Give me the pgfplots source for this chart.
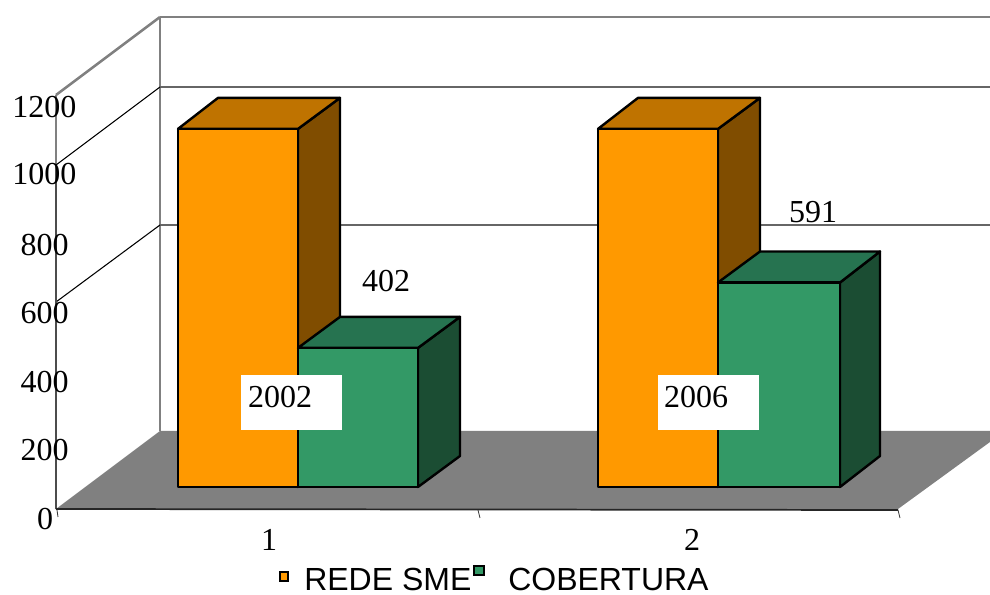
\documentclass[border=0pt]{standalone}
\usepackage{pgfplots}
\pgfplotsset{compat=1.18}
\usepackage{fontspec}
\setmainfont{Liberation Serif}
\newfontfamily\arialf{Liberation Sans}
\definecolor{floorgray}{HTML}{808080}
\definecolor{orF}{HTML}{FF9900}
\definecolor{orT}{HTML}{BF7300}
\definecolor{orS}{HTML}{804D00}
\definecolor{grF}{HTML}{339966}
\definecolor{grT}{HTML}{267350}
\definecolor{grS}{HTML}{1B4D33}
\pgfplotsset{
  base/.style={hide axis, scale only axis, width=742.5pt, height=446.25pt, xmin=0, xmax=990},
  pix/.style={base, ymin=0, ymax=595, y dir=reverse},
  face/.style={draw=black, line width=1.8pt, line join=round, mark=none, fill=#1},
  g2/.style={draw=floorgray, line width=1.9pt, mark=none},
  g1/.style={draw=black, line width=0.8pt, mark=none},
}
\tikzset{
  lab/.style={anchor=base, inner sep=0pt, font=\fontsize{24}{28}\selectfont},
  leg/.style={anchor=base west, inner sep=0pt, font=\arialf\fontsize{24}{28}\selectfont},
}
\begin{document}
\begin{tikzpicture}
\useasboundingbox (0,0) rectangle (742.5pt,446.25pt);
% frame: walls and floor (pixel space)
\begin{axis}[pix]
\addplot[fill=floorgray, draw=none, mark=none] coordinates {(56,509) (160,431) (990,431) (990,442) (898,509)} --cycle;
\addplot[g2] coordinates {(56,95) (160,17)};
\addplot[g2] coordinates {(160,17) (990,17)};
\addplot[g2] coordinates {(160,17) (160,431)};
\addplot[g2] coordinates {(56,95) (56,509)};
\addplot[draw=black!60, line width=1.2pt, mark=none] coordinates {(160,87) (990,87)};
\addplot[draw=black!60, line width=1.2pt, mark=none] coordinates {(160,225) (990,225)};
\addplot[g1] coordinates {(56,165) (160,87)};
\addplot[g1] coordinates {(56,302) (160,225)};
\addplot[draw=black!70, line width=1pt, mark=none] coordinates {(56,165) (56,509)};
\addplot[draw=black!85, line width=1.3pt, mark=none] coordinates {(56,509) (898,510)};
\addplot[draw=black!80, line width=0.6pt, mark=none] coordinates {(57,510) (58,517)};
\addplot[draw=black!80, line width=0.6pt, mark=none] coordinates {(478,510) (480,518)};
\addplot[draw=black!80, line width=0.6pt, mark=none] coordinates {(898,510) (900,518)};
\end{axis}
% bars: y in data units, depth offset 42 px / 89.6 units
\begin{axis}[base, ymin=-312.14, ymax=1407.51]
% group 1, REDE SME = 1035
\addplot[face=orS] coordinates {(298,0) (340,89.6) (340,1124.6) (298,1035)} --cycle;
\addplot[face=orT] coordinates {(178,1035) (218,1124.6) (340,1124.6) (298,1035)} --cycle;
\addplot[face=orF] coordinates {(178,0) (178,1035) (298,1035) (298,0)} --cycle;
% group 1, COBERTURA = 402
\addplot[face=grS] coordinates {(418,0) (460,89.6) (460,491.6) (418,402)} --cycle;
\addplot[face=grT] coordinates {(298,402) (340,491.6) (460,491.6) (418,402)} --cycle;
\addplot[face=grF] coordinates {(298,0) (298,402) (418,402) (418,0)} --cycle;
% group 2, REDE SME = 1035
\addplot[face=orS] coordinates {(718,0) (760,89.6) (760,1124.6) (718,1035)} --cycle;
\addplot[face=orT] coordinates {(598,1035) (638,1124.6) (760,1124.6) (718,1035)} --cycle;
\addplot[face=orF] coordinates {(598,0) (598,1035) (718,1035) (718,0)} --cycle;
% group 2, COBERTURA = 591
\addplot[face=grS] coordinates {(840,0) (880,89.6) (880,680.6) (840,591)} --cycle;
\addplot[face=grT] coordinates {(718,591) (760,680.6) (880,680.6) (840,591)} --cycle;
\addplot[face=grF] coordinates {(718,0) (718,591) (840,591) (840,0)} --cycle;
\end{axis}
% labels and legend (pixel space)
\begin{axis}[pix]
\addplot[fill=white, draw=none, mark=none] coordinates {(241,375) (342,375) (342,430) (241,430)} --cycle;
\addplot[fill=white, draw=none, mark=none] coordinates {(658,375) (759,375) (759,430) (658,430)} --cycle;
\addplot[fill=orF, draw=black, line width=1.2pt, mark=none] coordinates {(280,572) (288,572) (288,581) (280,581)} --cycle;
\addplot[fill=grF, draw=black, line width=1.2pt, mark=none] coordinates {(474,566) (484,566) (484,575) (474,575)} --cycle;
\node[lab] at (axis cs:44.5,118) {1200};
\node[lab] at (axis cs:44.5,185) {1000};
\node[lab] at (axis cs:44.5,256) {800};
\node[lab] at (axis cs:44.5,324) {600};
\node[lab] at (axis cs:44.5,393) {400};
\node[lab] at (axis cs:44.5,461) {200};
\node[lab] at (axis cs:45,530) {0};
\node[lab] at (axis cs:269,551) {1};
\node[lab] at (axis cs:692,551) {2};
\node[lab] at (axis cs:386,291.5) {402};
\node[lab] at (axis cs:813,223) {591};
\node[lab] at (axis cs:280,408) {2002};
\node[lab] at (axis cs:696,408) {2006};
\node[leg] at (axis cs:304,590) {REDE SME};
\node[leg] at (axis cs:508,590) {COBERTURA};
\end{axis}
\end{tikzpicture}
\end{document}
